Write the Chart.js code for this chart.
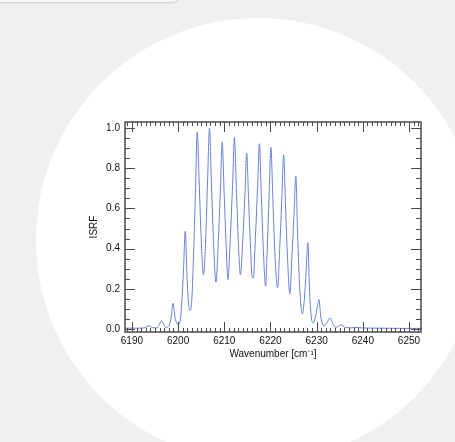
<!DOCTYPE html>
<html>
<head>
<meta charset="utf-8">
<script src="https://cdn.jsdelivr.net/npm/chart.js@4/dist/chart.umd.min.js"></script>
<style>
  html, body { margin: 0; padding: 0; width: 455px; height: 442px; overflow: hidden; background: #eff0ef; }
  #topBar { position: absolute; left: -10px; top: -20px; width: 190px; height: 22px; background: #f7f7f7;
            border-radius: 0 0 8px 0; box-shadow: 0 1px 2px rgba(0,0,0,0.15); }
  #disc { position: absolute; left: 36px; top: 18px; width: 444px; height: 444px; border-radius: 50%; background: #fff; }
  #isrfChart { position: absolute; left: 0; top: 0; }
</style>
</head>
<body>
<div id="topBar"></div>
<div id="disc"></div>
<canvas id="isrfChart" width="455" height="442"></canvas>
<script>
// DATA
const wavenumber = [
    6188.5, 6191, 6192.8, 6193.7, 6194.5, 6195.5, 6196.4, 6197.3, 6198.0, 6198.5,
    6198.9, 6199.35, 6200.0, 6200.6, 6201.15, 6201.55, 6201.95, 6202.3, 6202.6, 6202.95,
    6203.35, 6203.75, 6204.15, 6204.55, 6205.0, 6205.5, 6205.95, 6206.4, 6206.8, 6207.2,
    6207.65, 6208.2, 6208.7, 6209.15, 6209.55, 6209.95, 6210.4, 6210.8, 6211.3, 6211.8,
    6212.2, 6212.6, 6213.05, 6213.5, 6214.0, 6214.45, 6214.85, 6215.25, 6215.7, 6216.0,
    6216.3, 6216.75, 6217.2, 6217.6, 6218.0, 6218.45, 6218.95, 6219.3, 6219.7, 6220.1,
    6220.5, 6220.95, 6221.55, 6222.0, 6222.45, 6222.85, 6223.25, 6223.7, 6224.2, 6224.65,
    6225.1, 6225.5, 6225.85, 6226.3, 6226.9, 6227.35, 6227.75, 6228.1, 6228.45, 6228.8,
    6229.25, 6229.75, 6230.15, 6230.5, 6230.9, 6231.65, 6232.2, 6232.95, 6233.5, 6234.2,
    6235.3, 6236.2, 6237.5, 6238.5, 6240, 6244, 6248, 6252.6
];
const isrf = [
    0.004, 0.004, 0.006, 0.017, 0.006, 0.006, 0.04, 0.008, 0.015, 0.06,
    0.128, 0.055, 0.022, 0.07, 0.28, 0.487, 0.25, 0.12, 0.092, 0.14,
    0.37, 0.68, 0.98, 0.74, 0.45, 0.27, 0.43, 0.75, 1.0, 0.74,
    0.44, 0.233, 0.43, 0.69, 0.93, 0.69, 0.42, 0.245, 0.45, 0.72,
    0.954, 0.71, 0.43, 0.27, 0.44, 0.66, 0.876, 0.65, 0.4, 0.265,
    0.255, 0.46, 0.7, 0.922, 0.68, 0.4, 0.213, 0.4, 0.66, 0.905,
    0.66, 0.38, 0.205, 0.4, 0.64, 0.867, 0.62, 0.35, 0.175, 0.36,
    0.57, 0.76, 0.5, 0.22, 0.076, 0.15, 0.3, 0.43, 0.2, 0.07,
    0.03, 0.06, 0.11, 0.147, 0.06, 0.015, 0.03, 0.055, 0.025, 0.008,
    0.02, 0.008, 0.006, 0.008, 0.005, 0.004, 0.003, 0.003
];
const xTicks = [6190, 6200, 6210, 6220, 6230, 6240, 6250];
const yTicks = [0.0, 0.2, 0.4, 0.6, 0.8, 1.0];

// STYLE
const axisColor = "#4a4a4a";
const textColor = "#111";
const lineColor = "#6683d4";
const font = { family: "'Liberation Sans', Arial, sans-serif", size: 10 };

// IDL-style box with inward ticks on all four sides
const boxTicks = {
    id: "boxTicks",
    afterDatasetsDraw(chart) {
        const { ctx, chartArea: a, scales: { x, y } } = chart;
        ctx.save();
        ctx.strokeStyle = axisColor;
        ctx.lineWidth = 1;
        ctx.beginPath();
        for (let v = 6189; v <= 6252; v++) {
            const px = Math.round(x.getPixelForValue(v)) + 0.5;
            const len = v % 10 === 0 ? 10 : 4;
            ctx.moveTo(px, a.bottom); ctx.lineTo(px, a.bottom - len);
            ctx.moveTo(px, a.top); ctx.lineTo(px, a.top + len);
        }
        for (let i = 0; i <= 20; i++) {
            const py = Math.round(y.getPixelForValue(i * 0.05)) + 0.5;
            const len = i % 4 === 0 ? 10 : 5;
            ctx.moveTo(a.left, py); ctx.lineTo(a.left + len, py);
            ctx.moveTo(a.right, py); ctx.lineTo(a.right - len, py);
        }
        ctx.stroke();
        ctx.lineWidth = 1.5;
        ctx.strokeRect(a.left, a.top, a.right - a.left, a.bottom - a.top);
        ctx.restore();
    }
};

const chart = new Chart(document.getElementById("isrfChart"), {
    type: "line",
    data: {
        datasets: [{
            data: wavenumber.map((w, i) => ({ x: w, y: isrf[i] })),
            borderColor: lineColor,
            borderWidth: 1,
            pointRadius: 0,
            cubicInterpolationMode: "monotone",
            fill: false
        }]
    },
    options: {
        responsive: false,
        animation: false,
        layout: { padding: { left: 85, right: 34, top: 122, bottom: 82 } },
        plugins: { legend: { display: false }, tooltip: { enabled: false } },
        scales: {
            x: {
                type: "linear",
                min: 6188.5,
                max: 6252.6,
                afterBuildTicks: (s) => { s.ticks = xTicks.map((v) => ({ value: v })); },
                afterFit: (s) => { s.height = 28; },
                grid: { display: false, drawTicks: false },
                border: { display: false },
                ticks: { autoSkip: false, maxRotation: 0, padding: 3, color: textColor, font, callback: (v) => String(v) },
                title: { display: true, text: "Wavenumber [cm\u207B\u00B9]", color: textColor, font, padding: { top: 1, bottom: 0 } }
            },
            y: {
                min: -0.015,
                max: 1.03,
                afterBuildTicks: (s) => { s.ticks = yTicks.map((v) => ({ value: v })); },
                afterFit: (s) => { s.width = 40; },
                grid: { display: false, drawTicks: false },
                border: { display: false },
                ticks: { autoSkip: false, padding: 5, color: textColor, font, callback: (v) => Number(v).toFixed(1) },
                title: { display: true, text: "ISRF", color: textColor, font, padding: { top: 3, bottom: 0 } }
            }
        }
    },
    plugins: [boxTicks]
});
</script>
</body>
</html>
